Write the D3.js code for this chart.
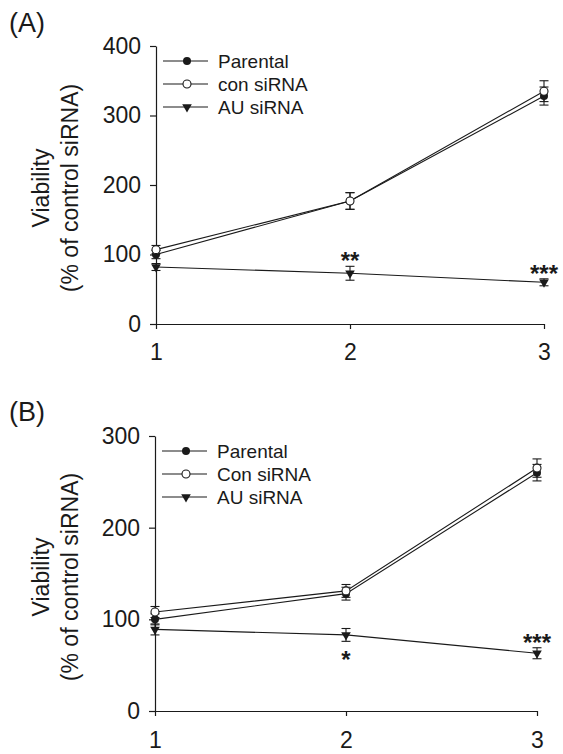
<!DOCTYPE html>
<html>
<head>
<meta charset="utf-8">
<script src="https://cdn.jsdelivr.net/npm/d3@7"></script>
<style>
  html, body { margin: 0; padding: 0; background: #fff; }
  svg { display: block; font-family: "Liberation Sans", Arial, sans-serif; }
</style>
</head>
<body>
<svg id="chart" width="563" height="754"></svg>
<script>
// x positions (days / time points)
const timePoints = [1, 2, 3];

// Panel A values (mean, error)
const aParental = [100, 177, 328];
const aParentalErr = [6, 12, 13];
const aCon = [107, 177, 335];
const aConErr = [6, 12, 15];
const aAU = [82, 73, 60];
const aAUErr = [5, 10, 5];
const aTicks = [0, 100, 200, 300, 400];
const aLegend = ['Parental', 'con siRNA', 'AU siRNA'];
const aSig = [{ x: 2, text: '**', pos: 'above' }, { x: 3, text: '***', pos: 'above' }];

// Panel B values
const bParental = [100, 128, 260];
const bParentalErr = [6, 7, 9];
const bCon = [108, 131, 265];
const bConErr = [6, 7, 10];
const bAU = [89, 83, 63];
const bAUErr = [6, 7, 6];
const bTicks = [0, 100, 200, 300];
const bLegend = ['Parental', 'Con siRNA', 'AU siRNA'];
const bSig = [{ x: 2, text: '*', pos: 'below' }, { x: 3, text: '***', pos: 'above' }];

const ink = '#1a1a1a';
const svg = d3.select('#chart');

function drawPanel(opt) {
  const g = svg.append('g');
  const x = d3.scaleLinear().domain([1, 3]).range([opt.left, opt.right]);
  const y = d3.scaleLinear().domain([0, opt.yMax]).range([opt.bottom, opt.top]);

  // axes
  const yAxis = g.append('g')
    .attr('transform', `translate(${opt.left},0)`)
    .call(d3.axisLeft(y).tickValues(opt.ticks).tickSize(6).tickSizeOuter(0).tickPadding(9));
  const xAxis = g.append('g')
    .attr('transform', `translate(0,${opt.bottom})`)
    .call(d3.axisBottom(x).tickValues(timePoints).tickFormat(d3.format('d'))
      .tickSize(5).tickSizeOuter(0).tickPadding(opt.xPad));
  [yAxis, xAxis].forEach(a => {
    a.select('.domain').attr('stroke', ink).attr('stroke-width', 1.2);
    a.selectAll('.tick line').attr('stroke', ink).attr('stroke-width', 1.2);
    a.selectAll('text').attr('fill', ink).style('font-size', '23px')
      .style('font-family', '"Liberation Sans", Arial, sans-serif');
  });

  // panel label
  g.append('text').attr('x', 9).attr('y', opt.labelY)
    .style('font-size', '27px').attr('fill', ink).text(opt.label);

  // y title
  const tg = g.append('g').attr('transform', `translate(0,${opt.titleY}) rotate(-90)`);
  tg.append('text').attr('x', 0).attr('y', 49).attr('text-anchor', 'middle')
    .style('font-size', '23px').attr('fill', ink).text('Viability');
  tg.append('text').attr('x', 0).attr('y', 78).attr('text-anchor', 'middle')
    .style('font-size', '23px').attr('fill', ink).text('(% of control siRNA)');

  const series = [
    { vals: opt.parental, err: opt.parentalErr, marker: 'filled' },
    { vals: opt.con, err: opt.conErr, marker: 'open' },
    { vals: opt.au, err: opt.auErr, marker: 'tri' }
  ];

  const line = d3.line().x((d, i) => x(timePoints[i])).y(d => y(d));

  series.forEach(s => {
    g.append('path').datum(s.vals).attr('d', line)
      .attr('fill', 'none').attr('stroke', ink).attr('stroke-width', 1.1);
  });

  series.forEach(s => {
    const eb = g.append('g').attr('stroke', ink).attr('stroke-width', 1.1);
    s.vals.forEach((v, i) => {
      const cx = x(timePoints[i]);
      const y1 = y(v + s.err[i]), y0 = y(v - s.err[i]);
      eb.append('line').attr('x1', cx).attr('x2', cx).attr('y1', y1).attr('y2', y0);
      eb.append('line').attr('x1', cx - 4.5).attr('x2', cx + 4.5).attr('y1', y1).attr('y2', y1);
      eb.append('line').attr('x1', cx - 4.5).attr('x2', cx + 4.5).attr('y1', y0).attr('y2', y0);
    });
  });

  function marker(parent, type, cx, cy) {
    if (type === 'filled') {
      parent.append('circle').attr('cx', cx).attr('cy', cy).attr('r', 4).attr('fill', ink);
    } else if (type === 'open') {
      parent.append('circle').attr('cx', cx).attr('cy', cy).attr('r', 4)
        .attr('fill', '#fff').attr('stroke', ink).attr('stroke-width', 1.1);
    } else {
      parent.append('path')
        .attr('d', d3.symbol().type(d3.symbolTriangle).size(40)())
        .attr('transform', `translate(${cx},${cy}) rotate(180)`).attr('fill', ink);
    }
  }

  series.forEach(s => {
    s.vals.forEach((v, i) => marker(g, s.marker, x(timePoints[i]), y(v)));
  });

  // significance marks on AU siRNA
  opt.sig.forEach(m => {
    const i = timePoints.indexOf(m.x);
    const v = opt.au[i], e = opt.auErr[i];
    const cy = m.pos === 'above' ? y(v + e) - 10 : y(v - e) + 14;
    g.append('text').attr('x', x(m.x)).attr('y', cy + 13)
      .attr('text-anchor', 'middle').style('font-size', '24px').style('font-weight', 'bold')
      .attr('fill', ink).text(m.text);
  });

  // legend
  const lg = g.append('g');
  opt.legend.forEach((name, i) => {
    const ly = opt.legendY + i * 23;
    lg.append('line').attr('x1', opt.left + 7).attr('x2', opt.left + 52)
      .attr('y1', ly).attr('y2', ly).attr('stroke', ink).attr('stroke-width', 1.1);
    marker(lg, series[i].marker, opt.left + 31, ly);
    lg.append('text').attr('x', opt.left + 62).attr('y', ly + 7)
      .style('font-size', '19px').attr('fill', ink).text(name);
  });
}

drawPanel({
  label: '(A)', labelY: 32, titleY: 188,
  left: 156, right: 544, top: 46, bottom: 324, yMax: 400, ticks: aTicks, xPad: 15,
  parental: aParental, parentalErr: aParentalErr, con: aCon, conErr: aConErr,
  au: aAU, auErr: aAUErr, legend: aLegend, legendY: 61, sig: aSig
});

drawPanel({
  label: '(B)', labelY: 421, titleY: 577,
  left: 155, right: 537, top: 436, bottom: 711, yMax: 300, ticks: bTicks, xPad: 16,
  parental: bParental, parentalErr: bParentalErr, con: bCon, conErr: bConErr,
  au: bAU, auErr: bAUErr, legend: bLegend, legendY: 451, sig: bSig
});
</script>
</body>
</html>
